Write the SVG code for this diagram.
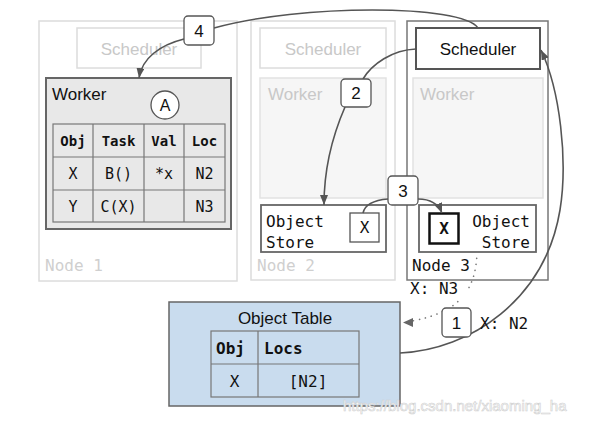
<svg xmlns="http://www.w3.org/2000/svg" width="590" height="423" viewBox="0 0 590 423">
<defs>
<style>
.sans{font-family:"Liberation Sans",Arial,sans-serif}
.mono{font-family:"DejaVu Sans Mono","Liberation Mono",monospace}
.ghostbox{fill:#fff;stroke:#dcdcdc;stroke-width:1.5}
.ghostwork{fill:#f6f6f6;stroke:#e2e2e2;stroke-width:1.5}
.ghosttxt{fill:#c8c8c8;font-size:17px}
.nodelbl{fill:#cfcfcf;font-size:16px}
.cell{fill:none;stroke:#777;stroke-width:1.2}
.th{font-size:14px;font-weight:bold;fill:#111}
.td{font-size:15px;fill:#111}
.oth{font-size:16px;font-weight:bold;fill:#111}
.otd{font-size:16px;fill:#111}
.store{fill:#fff;stroke:#666;stroke-width:1.8}
.storetxt{font-size:16px;fill:#111}
.num{fill:#fff;stroke:#555;stroke-width:1.3}
.numtxt{font-size:17px;fill:#111;text-anchor:middle}
.conn{fill:none;stroke:#555;stroke-width:1.6}
.dot{fill:none;stroke:#777;stroke-width:1.6;stroke-linecap:round;stroke-dasharray:0.1 6}
</style>
<marker id="ah" viewBox="0 0 10 8" refX="10" refY="4" markerWidth="10" markerHeight="8" markerUnits="userSpaceOnUse" orient="auto">
<path d="M0,0 L10,4 L0,8 z" fill="#555"/>
</marker>
</defs>
<rect width="590" height="423" fill="#fff"/>

<g id="node1">
<rect x="39" y="21" width="198" height="260" class="ghostbox"/>
<rect x="77" y="28" width="124" height="40" class="ghostbox"/>
<text x="139" y="55" class="sans ghosttxt" text-anchor="middle">Scheduler</text>
<text x="45" y="271" class="mono nodelbl">Node 1</text>
</g>

<g id="worker1">
<rect x="46" y="78" width="185" height="151" fill="#e8e8e8" stroke="#666" stroke-width="2"/>
<text x="52" y="100" class="sans" font-size="17" fill="#111">Worker</text>
<circle cx="165" cy="105" r="14" fill="#fff" stroke="#555" stroke-width="1.3"/>
<text x="165" y="111" class="sans" font-size="16" fill="#111" text-anchor="middle">A</text>
<rect x="53" y="124" width="172" height="98" class="cell"/>
<path d="M93,124V222M144,124V222M184,124V222M53,157H225M53,190H225" class="cell"/>
<g class="mono th" text-anchor="middle">
<text x="73" y="146">Obj</text><text x="118.5" y="146">Task</text><text x="164" y="146">Val</text><text x="204.5" y="146">Loc</text>
</g>
<g class="mono td" text-anchor="middle">
<text x="73" y="179">X</text><text x="118.5" y="179">B()</text><text x="164" y="179">*x</text><text x="204.5" y="179">N2</text>
<text x="73" y="212">Y</text><text x="118.5" y="212">C(X)</text><text x="204.5" y="212">N3</text>
</g>
</g>

<g id="node2">
<rect x="251" y="21" width="144" height="259" class="ghostbox"/>
<rect x="260" y="28" width="126" height="40" class="ghostbox"/>
<text x="323" y="55" class="sans ghosttxt" text-anchor="middle">Scheduler</text>
<rect x="260" y="78" width="126" height="120" class="ghostwork"/>
<text x="268" y="100" class="sans ghosttxt">Worker</text>
<text x="257" y="271" class="mono nodelbl">Node 2</text>
</g>

<g id="store2">
<rect x="261" y="205" width="125" height="47" class="store"/>
<text x="266" y="227" class="mono storetxt">Object</text>
<text x="266" y="248" class="mono storetxt">Store</text>
<rect x="350" y="213" width="29" height="29" fill="#fff" stroke="#555" stroke-width="1.3"/>
<text x="364.5" y="233" class="mono storetxt" text-anchor="middle">X</text>
</g>

<g id="node3">
<rect x="407" y="21" width="141" height="259" fill="#fff" stroke="#777" stroke-width="1.5"/>
<rect x="413" y="78" width="130" height="120" class="ghostwork"/>
<text x="420" y="100" class="sans ghosttxt">Worker</text>
<text x="412" y="271" class="mono" font-size="16" fill="#111">Node 3</text>
</g>

<g id="scheduler3">
<rect x="416" y="28" width="124" height="41" fill="#fff" stroke="#555" stroke-width="2"/>
<text x="478" y="55" class="sans" font-size="17" fill="#111" text-anchor="middle">Scheduler</text>
</g>

<g id="store3">
<rect x="419" y="205" width="117" height="47" class="store"/>
<rect x="429.5" y="213.5" width="29" height="30" fill="#fff" stroke="#111" stroke-width="2.5"/>
<text x="444" y="234" class="mono storetxt" font-weight="bold" text-anchor="middle">X</text>
<text x="530" y="227" class="mono storetxt" text-anchor="end">Object</text>
<text x="530" y="248" class="mono storetxt" text-anchor="end">Store</text>
</g>

<g id="objecttable">
<rect x="169" y="302" width="231" height="104" fill="#c9dcee" stroke="#666" stroke-width="1.5"/>
<text x="285" y="324" class="sans" font-size="17" fill="#111" text-anchor="middle">Object Table</text>
<rect x="211" y="331" width="148" height="66" class="cell"/>
<path d="M258,331V397M211,364H359" class="cell"/>
<text x="216" y="354" class="mono oth">Obj</text>
<text x="264" y="354" class="mono oth">Locs</text>
<text x="234.5" y="387" class="mono otd" text-anchor="middle">X</text>
<text x="308" y="387" class="mono otd" text-anchor="middle">[N2]</text>
</g>

<g id="connectors">
<path class="conn" d="M478,28 C462,4 300,4 214,28"/>
<path class="conn" marker-end="url(#ah)" d="M184,39 C160,45 142,58 139,78"/>
<path class="conn" d="M416,49 C392,50 372,64 363,79"/>
<path class="conn" marker-end="url(#ah)" d="M345,107 C335,130 324,165 324,205"/>
<path class="conn" d="M363,213 C365,204 375,200 388,199"/>
<path class="conn" marker-end="url(#ah)" d="M418,199 C430,199 438,203 442,213"/>
<path class="conn" marker-end="url(#ah)" d="M400,353 C470,350 545,300 560,210 C568,160 560,90 541,50"/>
<path class="dot" d="M477,252 C476,290 460,312 412,321"/>
<path d="M403,322.5 L413,318 L413,327 z" fill="#666"/>
</g>

<g id="labels">
<rect x="405" y="281" width="62" height="18" fill="#fff"/>
<text x="410" y="294" class="mono" font-size="16" fill="#111">X: N3</text>
<text x="480" y="329" class="mono" font-size="16" fill="#111">X: N2</text>
<rect x="184" y="16" width="30" height="29" rx="4" class="num"/>
<text x="199" y="37" class="sans numtxt">4</text>
<rect x="341" y="79" width="30" height="28" rx="4" class="num"/>
<text x="356" y="99" class="sans numtxt">2</text>
<rect x="388" y="176" width="30" height="29" rx="4" class="num"/>
<text x="403" y="197" class="sans numtxt">3</text>
<rect x="442" y="308" width="29" height="29" rx="4" class="num"/>
<text x="456.5" y="329" class="sans numtxt">1</text>
</g>

<text x="343" y="411" class="sans" font-size="15" fill="#fff" stroke="#cfcfcf" stroke-width="0.6">https://blog.csdn.net/xiaoming_ha</text>
</svg>
